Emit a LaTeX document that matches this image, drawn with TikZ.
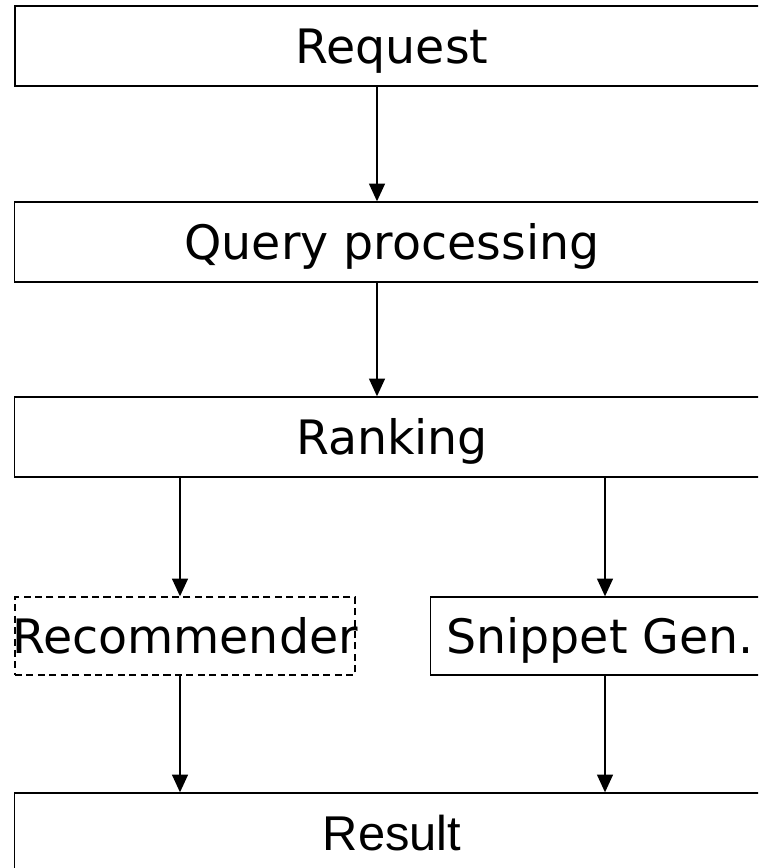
\documentclass[tikz,border=0pt]{standalone}
\usepackage{fontspec}
\setmainfont{DejaVu Sans}
\newfontfamily\resultfont{Liberation Sans}
\usetikzlibrary{arrows.meta}
\usetikzlibrary{positioning}
\tikzset{
    arrow/.style={-{Triangle[length=10pt,width=9pt]}, line width=0.85pt},
    box/.style = {
      rectangle,
      draw,
      line width=0.8pt,
      inner sep=0pt,
      minimum width=15.1cm,
      minimum height=1.6cm,
      text height=19.5pt,
      text depth=0pt,
      font=\fontsize{27}{30}\selectfont
    },
    smallbox/.style = {
      box,
      minimum width=6.8cm,
      minimum height=1.56cm
    },
}
\begin{document}
\begin{tikzpicture}[x=0.02cm, y=-0.02cm]
        \clip (0,0) rectangle (758,868);

        \node[box, line width=1.2pt] (request) at (392,46) {Request};
        \node[box] (query) at (392,242) {Query processing};
        \node[box] (ranking) at (392,437) {Ranking};

        \node[smallbox, dash pattern=on 4pt off 2.5pt, inner xsep=-0.12cm] (recommender) at (185,636) {Recommender};
        \node[smallbox, minimum width=6.78cm] (snippet) at (600,636) {Snippet Gen.};

        \node[box, text height=20pt, font=\resultfont\fontsize{27.8}{30}\selectfont] (result) at (392,833) {Result};

        \coordinate (midcol) at (377,0);
        \coordinate (leftcol) at (180,0);
        \coordinate (rightcol) at (605,0);

        \draw[arrow] (request.south -| midcol) -- (query.north -| midcol);
        \draw[arrow] (query.south -| midcol) -- (ranking.north -| midcol);
        \draw[arrow] (ranking.south -| leftcol) -- (recommender.north -| leftcol);
        \draw[arrow] (ranking.south -| rightcol) -- (snippet.north -| rightcol);
        \draw[arrow] (recommender.south -| leftcol) -- (result.north -| leftcol);
        \draw[arrow] (snippet.south -| rightcol) -- (result.north -| rightcol);
\end{tikzpicture}
\end{document}
